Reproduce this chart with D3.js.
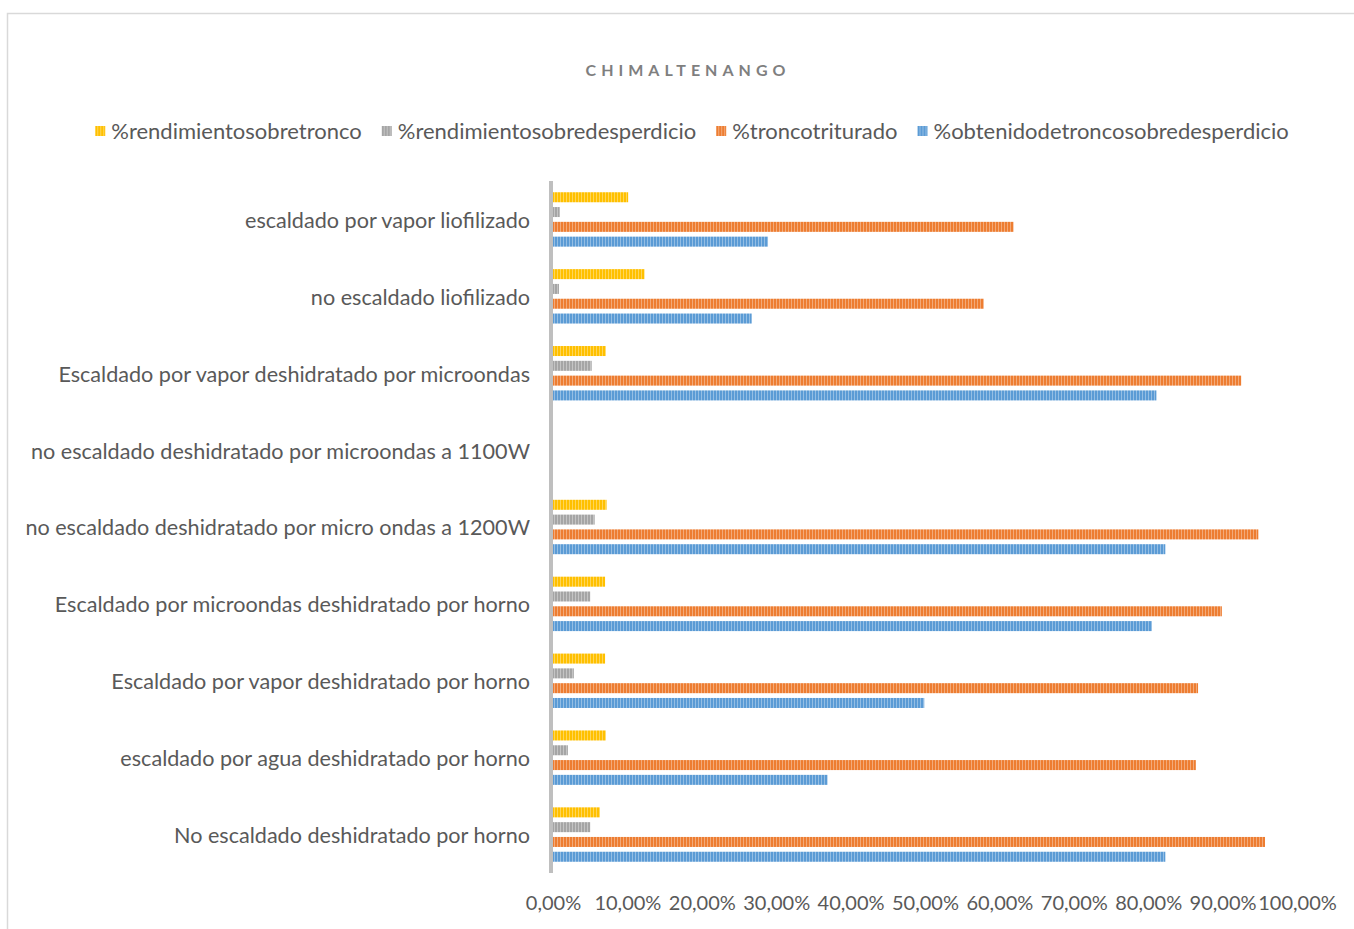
<!DOCTYPE html>
<html>
<head>
<meta charset="utf-8">
<script src="https://cdn.jsdelivr.net/npm/d3@7/dist/d3.min.js"></script>
<style>
  html, body { margin: 0; padding: 0; background: #ffffff; }
  svg { display: block; }
  text { font-family: Lato, "Open Sans", sans-serif; }
</style>
</head>
<body>
<svg id="chart" width="1354" height="929"></svg>
<script>
// ---- data ----
const title = "CHIMALTENANGO";
const categories = [
  "escaldado por vapor liofilizado",
  "no escaldado liofilizado",
  "Escaldado por vapor deshidratado por microondas",
  "no escaldado deshidratado por microondas a 1100W",
  "no escaldado deshidratado por micro ondas a 1200W",
  "Escaldado por microondas deshidratado por horno",
  "Escaldado por vapor deshidratado por horno",
  "escaldado por agua deshidratado por horno",
  "No escaldado deshidratado por horno"
];
const seriesNames = [
  "%rendimientosobretronco",
  "%rendimientosobredesperdicio",
  "%troncotriturado",
  "%obtenidodetroncosobredesperdicio"
];
const rendimientoSobreTronco = [0.101, 0.123, 0.071, null, 0.072, 0.070, 0.070, 0.071, 0.063];
const rendimientoSobreDesperdicio = [0.009, 0.008, 0.052, null, 0.056, 0.050, 0.028, 0.020, 0.050];
const troncoTriturado = [0.619, 0.579, 0.925, null, 0.948, 0.899, 0.867, 0.864, 0.957];
const obtenidoTroncoSobreDesperdicio = [0.289, 0.267, 0.811, null, 0.823, 0.805, 0.499, 0.369, 0.823];
const seriesValues = [rendimientoSobreTronco, rendimientoSobreDesperdicio, troncoTriturado, obtenidoTroncoSobreDesperdicio];
const tickValues = [0, 0.1, 0.2, 0.3, 0.4, 0.5, 0.6, 0.7, 0.8, 0.9, 1.0];
const colors = ["#FFC000", "#A5A5A5", "#ED7D31", "#5B9BD5"];

// ---- drawing ----
const svg = d3.select("#chart");
svg.append("rect").attr("x", 0).attr("y", 0).attr("width", 1354).attr("height", 929).attr("fill", "#fff");
svg.append("rect").attr("x", 7.5).attr("y", 13.5).attr("width", 1360).attr("height", 930)
  .attr("fill", "none").attr("stroke", "#d9d9d9").attr("stroke-width", 1.5);

// patterns (narrow vertical stripes)
const defs = svg.append("defs");
colors.forEach((c, i) => {
  const p = defs.append("pattern").attr("id", "pat" + i).attr("patternUnits", "userSpaceOnUse")
    .attr("width", 3).attr("height", 10);
  p.append("rect").attr("width", 3).attr("height", 10).attr("fill", c);
  p.append("rect").attr("x", 2).attr("width", 1).attr("height", 10).attr("fill", "#ffffff").attr("opacity", 0.35);
});

const x = d3.scaleLinear().domain([0, 1]).range([553, 1297]);
const y = d3.scaleBand().domain(categories).range([181, 873]).paddingInner(0).paddingOuter(0);
const inner = d3.scaleBand().domain(seriesNames).range([-27.2, 27.2]).paddingInner(0.324).paddingOuter(0);

// title
svg.append("text").attr("x", 688).attr("y", 76).attr("text-anchor", "middle")
  .attr("font-size", 16).attr("font-weight", "bold").attr("letter-spacing", 5)
  .attr("fill", "#7f7f7f").text(title);

// legend
const legend = svg.append("g");
let lx = 0;
seriesNames.forEach((n, i) => {
  const g = legend.append("g");
  g.append("rect").attr("x", 0).attr("y", -5).attr("width", 10).attr("height", 10).attr("fill", "url(#pat" + i + ")");
  const t = g.append("text").attr("x", 16).attr("y", 7.5).attr("font-size", 22).attr("fill", "#595959").text(n);
  const w = 16 + t.node().getComputedTextLength();
  g.attr("transform", `translate(${lx},131)`);
  lx += w + 20;
});
const legW = lx - 20;
legend.attr("transform", `translate(${692 - legW / 2},0)`);

// bars
const groups = svg.append("g").selectAll("g").data(categories).join("g")
  .attr("transform", d => `translate(0,${y(d) + y.bandwidth() / 2})`);
seriesNames.forEach((n, si) => {
  groups.filter((d, ci) => seriesValues[si][ci] != null)
    .append("rect")
    .attr("x", x(0))
    .attr("y", inner(n))
    .attr("height", inner.bandwidth())
    .attr("width", d => x(seriesValues[si][categories.indexOf(d)]) - x(0))
    .attr("fill", "url(#pat" + si + ")");
});

// y axis (category labels)
const yAxis = d3.axisLeft(y).tickSize(0).tickPadding(21);
const yg = svg.append("g").attr("transform", `translate(551,1.5)`).call(yAxis);
yg.select(".domain").remove();
yg.selectAll("text").attr("font-size", 21.6).attr("fill", "#595959").attr("font-family", "Lato, 'Open Sans', sans-serif");
svg.append("line").attr("x1", 551).attr("x2", 551).attr("y1", 181).attr("y2", 873)
  .attr("stroke", "#bfbfbf").attr("stroke-width", 4);

// x axis (tick labels only)
const xAxis = d3.axisBottom(x).tickValues(tickValues).tickSize(0).tickPadding(0)
  .tickFormat(d => d3.format(".2f")(d * 100).replace(".", ",") + "%");
const xg = svg.append("g").attr("transform", `translate(0,896)`).call(xAxis);
xg.select(".domain").remove();
xg.selectAll("text").attr("font-size", 20).attr("fill", "#595959").attr("font-family", "Lato, 'Open Sans', sans-serif");
</script>
</body>
</html>
